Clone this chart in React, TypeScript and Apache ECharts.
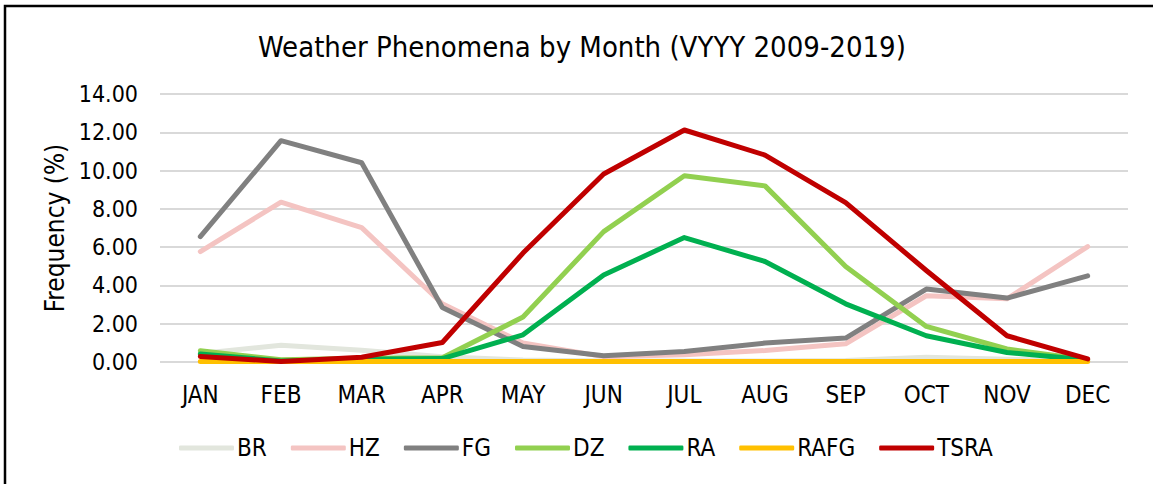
import React, { useEffect, useRef } from "react";
import * as echarts from "echarts";

const months = ["JAN", "FEB", "MAR", "APR", "MAY", "JUN", "JUL", "AUG", "SEP", "OCT", "NOV", "DEC"];
const BR = [0.45, 0.87, 0.62, 0.28, 0.1, 0.05, 0.05, 0.05, 0.08, 0.25, 0.15, 0.05];
const HZ = [5.77, 8.35, 7.02, 3.04, 0.99, 0.28, 0.38, 0.6, 0.95, 3.46, 3.3, 6.03];
const FG = [6.55, 11.56, 10.41, 2.85, 0.81, 0.33, 0.55, 0.99, 1.25, 3.81, 3.34, 4.5];
const DZ = [0.59, 0.12, 0.2, 0.22, 2.35, 6.81, 9.73, 9.2, 4.99, 1.86, 0.68, 0.12];
const RA = [0.42, 0.05, 0.15, 0.18, 1.42, 4.55, 6.5, 5.25, 3.04, 1.37, 0.5, 0.1];
const RAFG = [0.02, 0.02, 0.02, 0.02, 0.02, 0.02, 0.02, 0.02, 0.02, 0.02, 0.02, 0.02];
const TSRA = [0.29, 0.03, 0.25, 1.02, 5.69, 9.82, 12.12, 10.81, 8.33, 4.78, 1.37, 0.16];

const seriesDefs = [
  { name: "BR", data: BR, color: "#E2E6DD" },
  { name: "HZ", data: HZ, color: "#F4C4C2" },
  { name: "FG", data: FG, color: "#808080" },
  { name: "DZ", data: DZ, color: "#92D050" },
  { name: "RA", data: RA, color: "#00B050" },
  { name: "RAFG", data: RAFG, color: "#FFC000" },
  { name: "TSRA", data: TSRA, color: "#C00000" },
];

const FONT = "'DejaVu Sans Condensed', 'DejaVu Sans', sans-serif";

export default function App() {
  const ref = useRef<HTMLDivElement>(null);
  useEffect(() => {
    document.body.style.margin = "0";
    if (!ref.current) return;
    const chart = echarts.init(ref.current, null, { renderer: "svg" });
    chart.setOption({
      animation: false,
      backgroundColor: "#ffffff",
      title: {
        text: "Weather Phenomena by Month (VYYY 2009-2019)",
        left: 253,
        top: 27,
        textStyle: { fontFamily: FONT, fontSize: 29, fontWeight: "normal", color: "#000" },
      },
      graphic: [
        {
          type: "rect",
          shape: { x: 5, y: 6, width: 1300, height: 700 },
          style: { fill: "none", stroke: "#000", lineWidth: 2.5 },
          silent: true,
        },
      ],
      legend: {
        data: seriesDefs.map((s) => s.name),
        left: 174,
        top: 431,
        itemWidth: 55,
        itemHeight: 5,
        itemGap: 24,
        icon: "roundRect",
        textStyle: { fontFamily: FONT, fontSize: 24, color: "#000", padding: [0, 0, 0, -2] },
      },
      grid: { left: 160, right: 25, top: 94, bottom: 122 },
      xAxis: {
        type: "category",
        data: months,
        boundaryGap: true,
        axisLine: { show: false },
        axisTick: { show: false },
        axisLabel: { fontFamily: FONT, fontSize: 24, color: "#000", margin: 21 },
      },
      yAxis: {
        type: "value",
        min: 0,
        max: 14,
        interval: 2,
        name: "Frequency (%)",
        nameLocation: "middle",
        nameGap: 88,
        nameTextStyle: { fontFamily: FONT, fontSize: 26, color: "#000" },
        axisLabel: {
          fontFamily: FONT,
          fontSize: 23,
          color: "#000",
          margin: 22,
          formatter: (v: number) => v.toFixed(2),
        },
        splitLine: { lineStyle: { color: "#D9D9D9", width: 2 } },
      },
      series: seriesDefs.map((s) => ({
        name: s.name,
        type: "line",
        data: s.data,
        symbol: "none",
        color: s.color,
        lineStyle: { color: s.color, width: 5, cap: "round", join: "round" },
      })),
    });
    return () => chart.dispose();
  }, []);
  return <div ref={ref} style={{ width: 1153, height: 484 }} />;
}
